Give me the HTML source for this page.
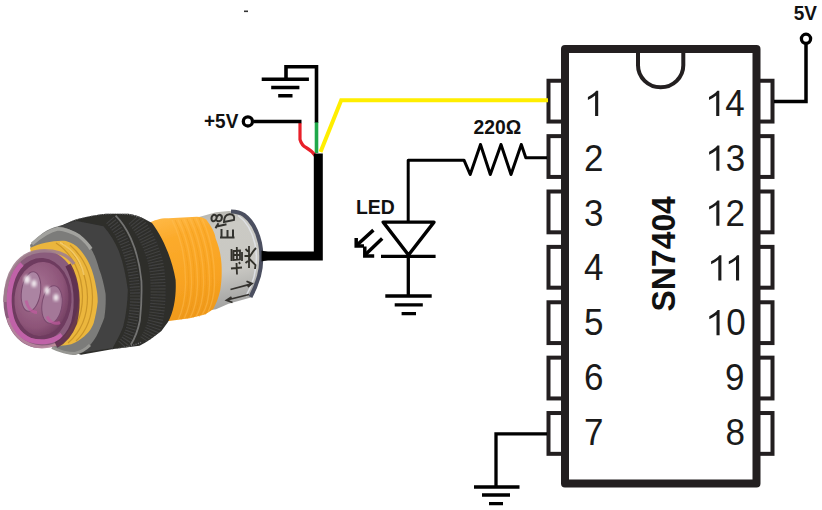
<!DOCTYPE html>
<html><head><meta charset="utf-8"><style>
html,body{margin:0;padding:0;background:#fff;width:822px;height:510px;overflow:hidden}
svg{display:block}
text{font-family:"Liberation Sans",sans-serif}
.n{font-size:35px;fill:#1a1a1a}
.b{font-weight:bold;fill:#111}
</style></head><body>
<svg width="822" height="510" viewBox="0 0 822 510">
<rect width="822" height="510" fill="#fff"/>
<defs>
<linearGradient id="gCap" x1="0" y1="0" x2="0.15" y2="1">
<stop offset="0" stop-color="#b2b1ab"/><stop offset="0.2" stop-color="#cbcac4"/><stop offset="0.65" stop-color="#c9c8c3"/><stop offset="1" stop-color="#a3a3a2"/>
</linearGradient>
<linearGradient id="gOr" x1="0" y1="0" x2="0.2" y2="1">
<stop offset="0" stop-color="#ffbb4a"/><stop offset="0.25" stop-color="#fcab2c"/><stop offset="0.7" stop-color="#f8a321"/><stop offset="1" stop-color="#f09a1c"/>
</linearGradient>
<radialGradient id="gLens" cx="0.4" cy="0.4" r="0.7">
<stop offset="0" stop-color="#a87596"/><stop offset="0.7" stop-color="#8d5478"/><stop offset="1" stop-color="#6c3a5c"/>
</radialGradient>
<filter id="soft" x="-5%" y="-5%" width="110%" height="110%"><feGaussianBlur stdDeviation="0.6"/></filter>
<filter id="soft2" x="-20%" y="-20%" width="140%" height="140%"><feGaussianBlur stdDeviation="1.5"/></filter>
<clipPath id="cNut"><path d="M57.4,228.3 C68,222 76,219 84.7,217.3 C95,215 102,213.7 108.5,213.7 L128.5,213.7 C134,214.5 139,216 143.1,218.2 L152,223 C162,236 172,258 175.6,280 C176.5,295 174,312 168,322 L161.4,331 C154,337 147,342 139.5,345.7 L112,349.3 L81,354.8 L60,348 L50,240 Z"/></clipPath>
</defs>
<g id="sensor" filter="url(#soft)">
<!-- cap -->
<path d="M199,217 L216,212.3 L229,211 C236,211.2 241,213 244,215 C251,220 257,230 260.5,243 C262.5,252 262.3,266 259.5,276 C257.5,283 254,291 250.8,297.4 L228.6,303.7 L216,309.3 L205,311 Z" fill="url(#gCap)"/>
<path d="M231,211.6 C237,211.8 241,213 244,215 C251,220 257,230 260,243 C262,252 261.8,266 259,276 C257,283 254,290.5 250.5,297" fill="none" stroke="#4c5060" stroke-width="4"/>
<path d="M238,215.5 C246,221 252,231 255,244 C257,254 256.5,267 254,277 C252,285 249,291 246,296" fill="none" stroke="#e4e6ec" stroke-width="1.5" opacity="0.8"/>
<!-- cap text -->
<g fill="none" stroke="#33322e" stroke-width="2" stroke-linecap="square">
<path d="M233.5,237.5 L221,237.5 M221.5,237.5 L221.5,230 M227.5,237 L227.5,231 M233,237 L233,230.5"/>
<path d="M216.5,226.5 L225.5,224.5 M218,224 L216,227.5"/>
<path d="M211.5,218.5 C211.5,215.5 213.5,214.5 215,215 C216.5,215.5 217,217 216.5,218.5 C216,220.5 214,221.5 212.5,221 C211.8,220.6 211.5,219.8 211.5,218.5 M216.5,218 C217,215.5 219,214.5 220.5,215 C222,215.7 222,218 221.5,219.5 C221,221 219,221.5 217.5,221"/>
<path d="M224,222 L234,220 C235,216.5 233,214 229.5,214.3 C226,214.6 224,217.5 224,222 Z"/>
</g>
<g fill="none" stroke="#33312c" stroke-width="1.8">
<path d="M231,268.5 L242,267.5 M236.5,263 L237,274.5"/>
<path d="M231.5,249 L231.5,261 M233.5,251 L240,250.5 L240,259.5 L233.5,260 Z M233.5,255 L240,255 M236.8,247 L237,261 M242,252 L242,261 M239,262 L240,264"/>
<path d="M245.5,249 L248,251.5 M244.5,256 L249,256 M245.5,263 L248,261 M249,246 L249,268 M249.5,257 C252,253 254,250 256,248 M249.5,259 L255.5,265 L255,269"/>
</g>
<path d="M230.5,289.5 L251.5,283.8 M246.5,281.2 L252,283.6 L247.8,287 M227,300 L249,294.5 M231.5,297 L226.5,300.2 L232.5,302.5" fill="none" stroke="#34332f" stroke-width="1.8"/>
<path d="M261.5,250.5 L268,252 L268,260 L261.5,261.5 Z" fill="#0a0a0a"/>
<!-- orange -->
<path d="M148,223.3 C155,220 160,218 168.5,218.2 L196.8,216.8 C201,217 204,218 206.2,219.4 C211,226 215,232 215.6,238.3 C219,247 221,255 221.5,264 C222,275 221.5,282 220.3,290 C218.5,298 216,304 213.3,309 C210,311.5 207,313.5 203.9,314.8 L189.7,318.3 L170.9,320.7 L160,322 Z" fill="url(#gOr)"/>
<g fill="none" stroke="#ffbf55" stroke-width="1.3" opacity="0.45">
<path d="M172,220 C182,240 186,262 185.5,285 C185,300 182,312 178,320"/>
<path d="M178,219.5 C188,240 192,262 191.5,285 C191,300 188,311 184,319"/>
<path d="M184,219 C194,240 198,262 197.5,285 C197,300 194,311 190,318"/>
<path d="M190,218.5 C200,240 204,262 203.5,285 C203,300 200,310 196,317"/>
<path d="M196,218 C206,240 210,262 209.5,285 C209,300 206,309 202,315"/>
<path d="M202,218.5 C212,240 215,262 214.5,285 C214,298 211,306 208,312"/>
</g>
<g fill="none" stroke="#e8920f" stroke-width="1" opacity="0.3">
<path d="M175,220 C185,240 189,262 188.5,285 C188,300 185,312 181,320"/>
<path d="M181,219.5 C191,240 195,262 194.5,285 C194,300 191,311 187,319"/>
<path d="M187,219 C197,240 201,262 200.5,285 C200,300 197,311 193,318"/>
<path d="M193,218.5 C203,240 207,262 206.5,285 C206,300 203,310 199,317"/>
<path d="M199,218 C209,240 213,262 212.5,285 C212,300 209,309 205,315"/>
</g>
<!-- black nut knurled rings -->
<path d="M57.4,228.3 C68,222 76,219 84.7,217.3 C95,215 102,213.7 108.5,213.7 L128.5,213.7 C134,214.5 139,216 143.1,218.2 L152,223 C162,236 172,258 175.6,280 C176.5,295 174,312 168,322 L161.4,331 C154,337 147,342 139.5,345.7 L112,349.3 L81,354.8 L60,348 L50,240 Z" fill="#2d2d2c"/>
<g clip-path="url(#cNut)">
<path d="M134,219 C143,229 150,243 155,260 C159,276 159,300 156,318 C154,328 151,335 146,342" fill="none" stroke="#484846" stroke-width="15" stroke-dasharray="1.1 1.9" opacity="0.75"/>
<path d="M110,220 C117,228 123,238 127,250 C132,264 135,280 135,296 C135,310 133,324 129,334 C127,339 124,343 121,346" fill="none" stroke="#4a4a48" stroke-width="10" stroke-dasharray="1.1 1.9" opacity="0.75"/>
<path d="M115.6,215.6 C122,222 127,230 130.8,238.4 C136,250 140,266 141.4,281 C142,296 141,310 139.9,320.5 C138,330 135,338 130.8,344.8" fill="none" stroke="#737371" stroke-width="1.8"/>
<path d="M68,222.5 C80,217 96,214 112,213.3 C124,213 136,214.5 148,220" fill="none" stroke="#7a7a78" stroke-width="1.6" stroke-dasharray="1.2 1.2"/>
<path d="M112,349.5 C125,348 135,345 142,342" fill="none" stroke="#6a6a68" stroke-width="1.4" stroke-dasharray="1.2 1.2"/>
</g>
<!-- hex nut face -->
<path d="M58,226.3 L76.5,221 L103.4,226.3 C110,234 115,242 118.6,250.6 C123,262 126,276 127.8,290 C127.5,303 126,315 123.2,326.6 C120,335 116,342 112.6,347.9 L85.8,352 L73.8,354.8 L55,348 Z" fill="#434342"/>
<!-- gray ring -->
<path d="M30,245 C38,236 48,228 58,226.3 C65,227 71,230 76.5,233 C82,237 86,241 89.7,246.2 C94,253 97,261 99,268.7 C102,276 104,285 105.6,293.9 C106,302 105.5,310 104.3,317.7 C102,324 99.5,330 96.4,336.3 C93,342 89.5,346 85.8,349.5 C82,352 78,353.8 73.8,354.8 C65,354 58,350 50,346 Z" fill="#7c7c7a"/>
<path d="M32,244 C40,237 49,230.5 58,228.8 C66,229.5 73,232.5 79,236 C84,240 88,244 91,249" fill="none" stroke="#a2a29e" stroke-width="3.5"/>
<path d="M52,347.5 C60,351.5 67,353.5 75,353.5 C81,352 86,349 90,345" fill="none" stroke="#969692" stroke-width="3"/>
<!-- yellow thread -->
<path d="M30,248 C40,243 55,240 65.9,240.9 C72,243 76,245 79.1,248.8 C83,253 86.5,258 89.7,264.7 C93,272 95,280 96.4,288.6 C97.3,293 97.7,297 97.7,301.8 C97,309 95.5,316 93.7,323 C91,330 88,333 84.4,336.3 C80,340 76,342.5 71.2,344.2 C64,346 57,346 50,346 Z" fill="#ebb63c"/>
<g fill="none" stroke="#b98420" stroke-width="1.2" opacity="0.65">
<path d="M56,243 C73,254 82,274 82.5,296 C82.5,316 76,332 60,344"/>
<path d="M63,243.5 C79,256 87,276 87.5,297 C87.5,316 82,331 68,343"/>
<path d="M70,245 C85,258 92,277 92.5,297 C92.5,316 88,330 76,341"/>
</g>
<path d="M60,242.5 C74,250 81,262 84,275" fill="none" stroke="#f7d070" stroke-width="1.6" opacity="0.8"/>
<!-- lens -->
<ellipse cx="41" cy="299" rx="37.5" ry="49" transform="rotate(4 41 299)" fill="#8a5c7c"/>
<path d="M5,302 C5,272 19,253 40,251 C56,250 68,255 74,264" fill="none" stroke="#a0808f" stroke-width="3.5" opacity="0.9"/>
<path d="M8,318 C12,334 24,346 42,347 C52,347 60,344 66,338" fill="none" stroke="#b7879f" stroke-width="3" opacity="0.9"/>
<ellipse cx="40" cy="300" rx="31.5" ry="42" transform="rotate(4 40 300)" fill="#6e3a5e"/>
<path d="M22,264 C12,273 8,291 9.5,307 C11,323 18,335 30,340 C42,344 55,341 62,335" fill="none" stroke="#c062a8" stroke-width="5"/>
<ellipse cx="41.5" cy="299" rx="27" ry="37" transform="rotate(4 41.5 299)" fill="url(#gLens)"/>
<path d="M68,265 C77,281 79,303 74,323 C70,334 64,341 56,345" fill="none" stroke="#5c2c4c" stroke-width="6" opacity="0.9"/>
<ellipse cx="31" cy="291.5" rx="9.5" ry="20" transform="rotate(8 31 291.5)" fill="#ab84a2" stroke="#7a4a6e" stroke-width="1"/>
<ellipse cx="52" cy="304.5" rx="10" ry="19" transform="rotate(8 52 304.5)" fill="#a47898" stroke="#7a4a6e" stroke-width="1"/>
<path d="M26,300.5 C28,308.5 32,312.5 37,312.5" fill="none" stroke="#c0589e" stroke-width="3" opacity="0.7"/>
<path d="M47,316.5 C50,322.5 55,324.5 60,322.5" fill="none" stroke="#c0589e" stroke-width="3" opacity="0.7"/>
<ellipse cx="27" cy="279.5" rx="3" ry="4" fill="#f4eef2" filter="url(#soft2)"/>
<ellipse cx="34" cy="283.5" rx="2.5" ry="3.5" fill="#f4eef2" filter="url(#soft2)"/>
<ellipse cx="47" cy="290.5" rx="2.5" ry="4" fill="#f4eef2" filter="url(#soft2)"/>
<ellipse cx="56" cy="297.5" rx="2.5" ry="3.5" fill="#f4eef2" filter="url(#soft2)"/>
</g>

<rect x="244" y="10.5" width="4" height="1.6" fill="#333"/>
<!-- chip pins -->
<rect x="548.5" y="80.75" width="15" height="40.8" fill="#fff" stroke="#231f20" stroke-width="4"/><rect x="758" y="80.75" width="14.5" height="40.8" fill="#fff" stroke="#231f20" stroke-width="4"/><rect x="548.5" y="136.13" width="15" height="40.8" fill="#fff" stroke="#231f20" stroke-width="4"/><rect x="758" y="136.13" width="14.5" height="40.8" fill="#fff" stroke="#231f20" stroke-width="4"/><rect x="548.5" y="191.51" width="15" height="40.8" fill="#fff" stroke="#231f20" stroke-width="4"/><rect x="758" y="191.51" width="14.5" height="40.8" fill="#fff" stroke="#231f20" stroke-width="4"/><rect x="548.5" y="246.89" width="15" height="40.8" fill="#fff" stroke="#231f20" stroke-width="4"/><rect x="758" y="246.89" width="14.5" height="40.8" fill="#fff" stroke="#231f20" stroke-width="4"/><rect x="548.5" y="302.27" width="15" height="40.8" fill="#fff" stroke="#231f20" stroke-width="4"/><rect x="758" y="302.27" width="14.5" height="40.8" fill="#fff" stroke="#231f20" stroke-width="4"/><rect x="548.5" y="357.65" width="15" height="40.8" fill="#fff" stroke="#231f20" stroke-width="4"/><rect x="758" y="357.65" width="14.5" height="40.8" fill="#fff" stroke="#231f20" stroke-width="4"/><rect x="548.5" y="413.03" width="15" height="40.8" fill="#fff" stroke="#231f20" stroke-width="4"/><rect x="758" y="413.03" width="14.5" height="40.8" fill="#fff" stroke="#231f20" stroke-width="4"/>
<!-- chip body -->
<rect x="565" y="49" width="191.5" height="434.4" fill="none" stroke="#231f20" stroke-width="8" stroke-linejoin="round"/>
<path d="M638,52 V65.3 A22.65,22 0 0 0 683.3,65.3 V52" fill="none" stroke="#231f20" stroke-width="4"/>
<path transform="translate(584.00,116.00)" d="M14.2,-25.2 V0 H11.1 V-20.6 C9,-18.8 6.5,-17.2 3.9,-16.1 V-19.1 C7.5,-20.8 10.4,-23 12.2,-25.2 Z" fill="#1a1a1a"/><path transform="translate(705.10,116.00)" d="M14.2,-25.2 V0 H11.1 V-20.6 C9,-18.8 6.5,-17.2 3.9,-16.1 V-19.1 C7.5,-20.8 10.4,-23 12.2,-25.2 Z" fill="#1a1a1a"/><text transform="translate(725.20,116.00) scale(1,1.046)" class="n">4</text><text transform="translate(584.00,170.82) scale(1,1.046)" class="n">2</text><path transform="translate(705.20,170.82)" d="M14.2,-25.2 V0 H11.1 V-20.6 C9,-18.8 6.5,-17.2 3.9,-16.1 V-19.1 C7.5,-20.8 10.4,-23 12.2,-25.2 Z" fill="#1a1a1a"/><text transform="translate(725.80,170.82) scale(1,1.046)" class="n">3</text><text transform="translate(584.00,225.64) scale(1,1.046)" class="n">3</text><path transform="translate(705.20,225.64)" d="M14.2,-25.2 V0 H11.1 V-20.6 C9,-18.8 6.5,-17.2 3.9,-16.1 V-19.1 C7.5,-20.8 10.4,-23 12.2,-25.2 Z" fill="#1a1a1a"/><text transform="translate(725.50,225.64) scale(1,1.046)" class="n">2</text><text transform="translate(584.00,280.46) scale(1,1.046)" class="n">4</text><path transform="translate(707.20,280.46)" d="M14.2,-25.2 V0 H11.1 V-20.6 C9,-18.8 6.5,-17.2 3.9,-16.1 V-19.1 C7.5,-20.8 10.4,-23 12.2,-25.2 Z" fill="#1a1a1a"/><path transform="translate(724.90,280.46)" d="M14.2,-25.2 V0 H11.1 V-20.6 C9,-18.8 6.5,-17.2 3.9,-16.1 V-19.1 C7.5,-20.8 10.4,-23 12.2,-25.2 Z" fill="#1a1a1a"/><text transform="translate(584.00,335.28) scale(1,1.046)" class="n">5</text><path transform="translate(705.40,335.28)" d="M14.2,-25.2 V0 H11.1 V-20.6 C9,-18.8 6.5,-17.2 3.9,-16.1 V-19.1 C7.5,-20.8 10.4,-23 12.2,-25.2 Z" fill="#1a1a1a"/><text transform="translate(726.20,335.28) scale(1,1.046)" class="n">0</text><text transform="translate(584.00,390.10) scale(1,1.046)" class="n">6</text><text transform="translate(724.90,390.10) scale(1,1.046)" class="n">9</text><text transform="translate(584.00,444.92) scale(1,1.046)" class="n">7</text><text transform="translate(725.50,444.92) scale(1,1.046)" class="n">8</text>
<text transform="translate(674.7,311.4) rotate(-90) scale(0.982,1)" class="b" font-size="32.5">SN7404</text>
<!-- 5V top right -->
<path d="M774,101.4 H806 V43" fill="none" stroke="#000" stroke-width="3.5"/>
<circle cx="806" cy="38.8" r="4.6" fill="#fff" stroke="#000" stroke-width="3.3"/>
<text transform="translate(793.7,20) scale(1,1.08)" class="b" font-size="19">5V</text>
<!-- pin 7 ground -->
<path d="M547,433.9 H496 V487" fill="none" stroke="#000" stroke-width="3.3"/>
<path d="M474,487 H519.5 M482,495 H510 M489,503.6 H503" fill="none" stroke="#000" stroke-width="3.3"/>
<!-- resistor + LED -->
<text transform="translate(473.5,133.6) scale(1,1.06)" class="b" font-size="19.3">220Ω</text>
<path d="M547,157.7 H525.8 L521.3,144.5 L511,174.5 L501,144.5 L490.3,174.5 L480.5,144.5 L470.2,174.5 L464,160.2 H408.2 V222" fill="none" stroke="#000" stroke-width="3" stroke-linejoin="round"/>
<path d="M383.2,222.1 H434 L408.5,255 Z" fill="none" stroke="#000" stroke-width="3.4" stroke-linejoin="round"/>
<path d="M381,256.3 H435.6 M408.3,256 V296" fill="none" stroke="#000" stroke-width="3.3"/>
<path d="M385.3,296 H431.7 M394.7,304.8 H422.8 M401.6,313.7 H416" fill="none" stroke="#000" stroke-width="3.3"/>
<path d="M373.4,230.1 L357,245 M382.2,238.5 L365.5,254.5" fill="none" stroke="#000" stroke-width="3.5"/>
<path d="M356.2,238 V246 H364 M364.8,246.5 V256 H374.2" fill="none" stroke="#000" stroke-width="3.5"/>
<text transform="translate(356,214) scale(1,1.08)" class="b" font-size="19.4">LED</text>
<!-- sensor wires -->
<path d="M261.7,79.2 H308.9 M271.2,87.5 H299.4 M278.2,95.8 H292.5" fill="none" stroke="#000" stroke-width="3.6"/>
<path d="M286,79 V66.7 H316.5 V123" fill="none" stroke="#000" stroke-width="3.6"/>
<path d="M316.5,122.4 V153" fill="none" stroke="#1fa84a" stroke-width="3.6"/>
<path d="M548,100.3 H341.2 L320.5,152" fill="none" stroke="#ffee00" stroke-width="4"/>
<path d="M300,123 V139.5 C301,143 303,146 306,147.5 C309.5,149.5 312.5,151.5 315.5,156" fill="none" stroke="#e8202a" stroke-width="3.2"/>
<path d="M254,121.6 H301.5" fill="none" stroke="#000" stroke-width="3.5"/>
<path d="M262,256 H318.3 V153.5" fill="none" stroke="#000" stroke-width="9"/>
<circle cx="247.9" cy="121.4" r="4.6" fill="#fff" stroke="#000" stroke-width="3.3"/>
<text transform="translate(204,128.1) scale(1,1.08)" class="b" font-size="19">+5V</text>
</svg>
</body></html>
